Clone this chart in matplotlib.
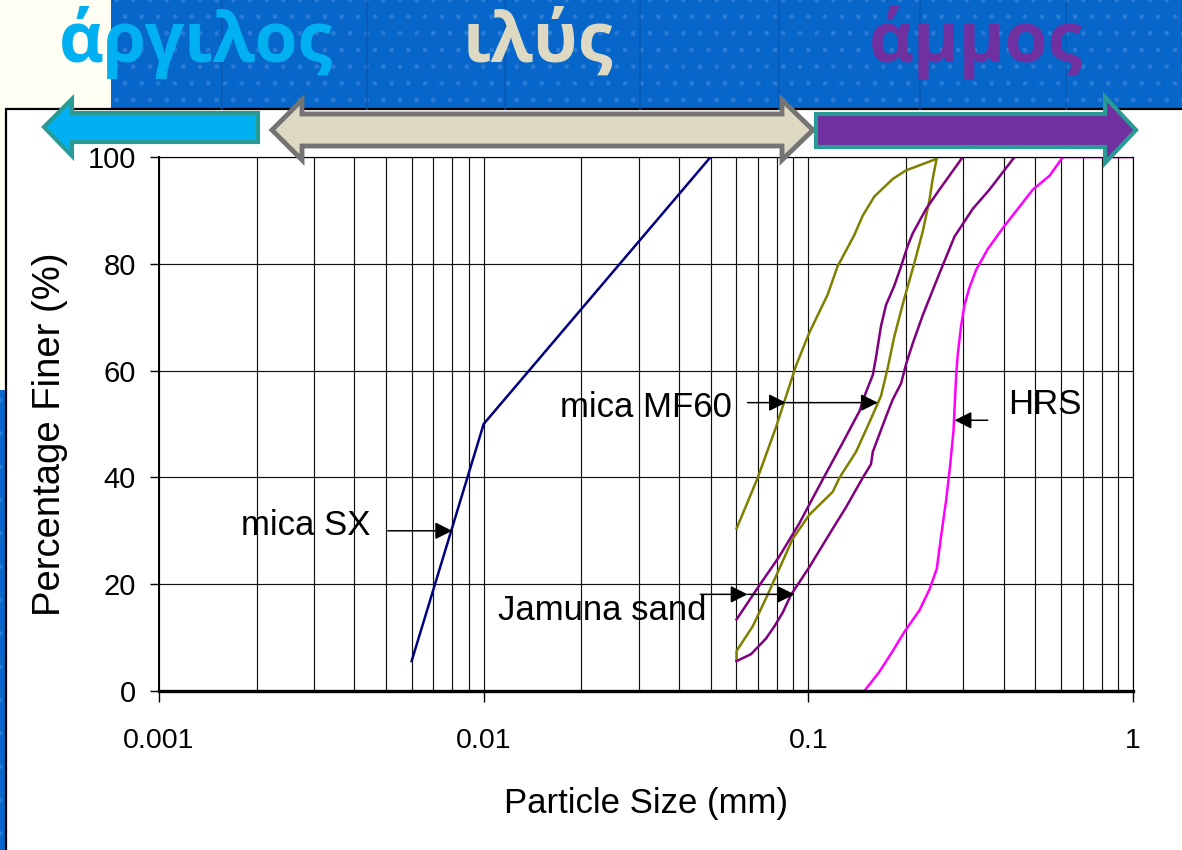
import matplotlib
matplotlib.use("Agg")
import matplotlib.pyplot as plt
from matplotlib.patches import Rectangle, Polygon
import numpy as np

W, H = 1182, 850
DPI = 100

# ---------------- data ----------------
mica_sx_x = [0.006, 0.01, 0.05]
mica_sx_y = [5.6, 50.0, 100.0]

mf60_a_x = [0.0601, 0.0698, 0.0795, 0.0916, 0.1007, 0.1148, 0.123, 0.1386, 0.147,
            0.1597, 0.182, 0.2, 0.2446, 0.249]
mf60_a_y = [30.4, 39.9, 49.4, 60.9, 67.1, 74.3, 79.5, 85.4, 89.0, 92.6, 95.9, 97.5,
            99.5, 100.0]

mf60_b_x = [0.0601, 0.0601, 0.0674, 0.0749, 0.0814, 0.0895, 0.1007, 0.1189, 0.1246,
            0.1403, 0.156, 0.1675, 0.1756, 0.184, 0.1977, 0.2122, 0.2252, 0.236,
            0.2416, 0.249]
mf60_b_y = [5.6, 7.5, 12.1, 18.0, 22.9, 28.5, 33.0, 37.3, 39.9, 44.8, 51.0, 55.3,
            60.5, 66.4, 73.6, 80.2, 86.1, 91.9, 95.9, 100.0]

jam_a_x = [0.0601, 0.0698, 0.0814, 0.0938, 0.1107, 0.1276, 0.1437, 0.1506, 0.158,
           0.1616, 0.1675, 0.1735, 0.184, 0.193, 0.2024, 0.2097, 0.2306, 0.2534, 0.299]
jam_a_y = [13.4, 19.3, 25.2, 31.4, 39.6, 46.5, 52.4, 56.0, 59.2, 62.5, 68.4, 72.3,
           75.9, 79.5, 83.4, 85.7, 90.3, 93.9, 100.0]

jam_b_x = [0.0601, 0.0666, 0.074, 0.0786, 0.0834, 0.0884, 0.1007, 0.1189, 0.1306,
           0.147, 0.156, 0.158, 0.1735, 0.182, 0.193, 0.2, 0.2097, 0.2252, 0.2534,
           0.282, 0.321, 0.3614, 0.4315]
jam_b_y = [5.6, 6.9, 9.8, 12.1, 14.7, 18.0, 23.2, 30.4, 34.4, 39.9, 42.5, 44.8, 51.4,
           54.6, 57.6, 61.2, 65.1, 70.4, 78.2, 85.1, 90.3, 93.9, 100.0]

hrs_x = [0.1, 0.1488, 0.1655, 0.182, 0.1977, 0.2199, 0.236, 0.2487, 0.2565, 0.2657,
         0.2733, 0.28, 0.282, 0.2853, 0.2887, 0.2955, 0.3027, 0.3137, 0.3289, 0.3573,
         0.3973, 0.4916, 0.5535, 0.6083, 1.0]
hrs_y = [0.0, 0.0, 3.6, 7.5, 11.1, 15.1, 19.0, 22.9, 29.1, 35.7, 42.2, 48.8, 52.7,
         59.2, 63.2, 68.4, 72.3, 75.6, 78.9, 82.8, 86.7, 93.9, 96.5, 100.0, 100.0]

x_ticks = [0.001, 0.01, 0.1, 1]
x_tick_labels = ["0.001", "0.01", "0.1", "1"]
y_ticks = [0, 20, 40, 60, 80, 100]

headers = ["άργιλος", "ιλύς", "άμμος"]

# ---------------- figure ----------------
plt.rcParams['font.family'] = ['Liberation Sans', 'DejaVu Sans']
fig = plt.figure(figsize=(W / DPI, H / DPI), dpi=DPI)
fig.patch.set_facecolor('#0A66C8')

# background layer in pixel coordinates
bg = fig.add_axes([0, 0, 1, 1], zorder=-5)
bg.set_xlim(0, W)
bg.set_ylim(H, 0)
bg.axis('off')
plt.rcParams['hatch.linewidth'] = 1.0
bg.add_patch(Rectangle((0, 0), W, H, facecolor='#0766C9', edgecolor='#2a7bd3',
                       hatch='.', linewidth=0))
for xv in [222, 367, 505, 640, 779, 920, 1066]:
    bg.plot([xv, xv], [0, 109], color='#0a58b0', lw=1.2, alpha=0.8)
bg.add_patch(Rectangle((0, 0), 111, 109, facecolor='#FFFEF2', edgecolor='none'))
bg.add_patch(Rectangle((0, 109), 7, 281, facecolor='#FFFEF2', edgecolor='none'))
bg.add_patch(Rectangle((6, 109), W + 10, H, facecolor='white', edgecolor='black',
                       linewidth=1.6))

# ---------------- main chart ----------------
L, R, T, B = 159, 1133, 157, 691
ax = fig.add_axes([L / W, 1 - B / H, (R - L) / W, (B - T) / H], zorder=1)
ax.set_facecolor('none')
ax.set_xscale('log')
ax.set_xlim(0.001, 1)
ax.set_ylim(0, 100)

lw_data = 1.8
ax.plot(mica_sx_x, mica_sx_y, color='#000080', lw=lw_data, zorder=2)
ax.plot(mf60_a_x, mf60_a_y, color='#808000', lw=lw_data, zorder=2)
ax.plot(mf60_b_x, mf60_b_y, color='#808000', lw=lw_data, zorder=2)
ax.plot(jam_a_x, jam_a_y, color='#800080', lw=lw_data, zorder=2)
ax.plot(jam_b_x, jam_b_y, color='#800080', lw=lw_data, zorder=2)
ax.plot(hrs_x, hrs_y, color='#FF00FF', lw=lw_data, zorder=2)

ax.set_xticks(x_ticks)
ax.set_xticklabels(x_tick_labels)
ax.set_yticks(y_ticks)
ax.tick_params(axis='x', which='major', direction='out', length=8, width=1,
               labelsize=20.5, pad=19, color='black')
ax.tick_params(axis='x', which='minor', length=0)
ax.tick_params(axis='y', which='major', direction='out', length=6.5, width=1,
               labelsize=21, pad=10)
ax.grid(True, which='both', axis='x', color='#111111', lw=0.85)
ax.grid(True, which='major', axis='y', color='#111111', lw=0.85)
ax.set_axisbelow(True)
for s in ['top', 'right']:
    ax.spines[s].set_linewidth(0.85)
ax.spines['bottom'].set_linewidth(2.4)
ax.spines['bottom'].set_zorder(3)
ax.spines['left'].set_linewidth(1.4)

ax.set_xlabel('Particle Size (mm)', fontsize=25)
ax.xaxis.set_label_coords(0.5, -0.18)
ax.set_ylabel('Percentage Finer (%)', fontsize=27.5)
ax.yaxis.set_label_coords(-0.093, 0.48)

# annotations
ap = dict(arrowstyle='-|>', mutation_scale=26, lw=1.1, color='black',
          shrinkA=0, shrinkB=0)
fs_ann = 25
ax.text(0.00447, 31, 'mica SX', ha='right', va='center', fontsize=fs_ann)
ax.annotate('', xy=(0.0080, 30), xytext=(0.00507, 30), arrowprops=ap)

ax.text(0.0582, 53, 'mica MF60', ha='right', va='center', fontsize=fs_ann)
ax.annotate('', xy=(0.0853, 54), xytext=(0.065, 54), arrowprops=ap)
ax.annotate('', xy=(0.1637, 54), xytext=(0.0853, 54), arrowprops=ap)

ax.text(0.0484, 15, 'Jamuna sand', ha='right', va='center', fontsize=fs_ann)
ax.annotate('', xy=(0.065, 18.1), xytext=(0.0465, 18.1), arrowprops=ap)
ax.annotate('', xy=(0.0906, 18.1), xytext=(0.065, 18.1), arrowprops=ap)

ax.text(0.412, 53.6, 'HRS', ha='left', va='center', fontsize=fs_ann)
ax.annotate('', xy=(0.282, 50.7), xytext=(0.357, 50.7), arrowprops=ap)

# ---------------- top overlay: headers and range arrows ----------------
top = fig.add_axes([0, 0, 1, 1], zorder=10)
top.set_xlim(0, W)
top.set_ylim(H, 0)
top.axis('off')
top.patch.set_alpha(0)

teal = '#2A9A96'
cyan_arrow = [(44, 127), (72, 99), (72, 113), (258, 113), (258, 142), (72, 142),
              (72, 156)]
top.add_patch(Polygon(cyan_arrow, closed=True, facecolor='#00B0F0', edgecolor=teal,
                      linewidth=3, joinstyle='miter'))
beige_arrow = [(272, 130), (302, 100), (302, 114), (782, 114), (782, 100), (813, 130),
               (782, 160), (782, 146), (302, 146), (302, 160)]
top.add_patch(Polygon(beige_arrow, closed=True, facecolor='#DDD9C3',
                      edgecolor='#747474', linewidth=3.5, joinstyle='miter'))
purple_arrow = [(816, 114), (1105, 114), (1105, 97), (1136, 130), (1105, 163),
                (1105, 147), (816, 147)]
top.add_patch(Polygon(purple_arrow, closed=True, facecolor='#7030A0', edgecolor=teal,
                      linewidth=3, joinstyle='miter'))

hdr_font = ['Open Sans', 'DejaVu Sans']
hdr_size = 50
top.text(196, 62, headers[0], color='#00B0F0', fontsize=hdr_size, fontweight='bold',
         ha='center', va='baseline', family=hdr_font)
top.text(538, 62, headers[1], color='#DDD9C3', fontsize=hdr_size, fontweight='bold',
         ha='center', va='baseline', family=hdr_font)
top.text(976, 62, headers[2], color='#7030A0', fontsize=hdr_size, fontweight='bold',
         ha='center', va='baseline', family=hdr_font)

fig.savefig('out.png', dpi=DPI)
